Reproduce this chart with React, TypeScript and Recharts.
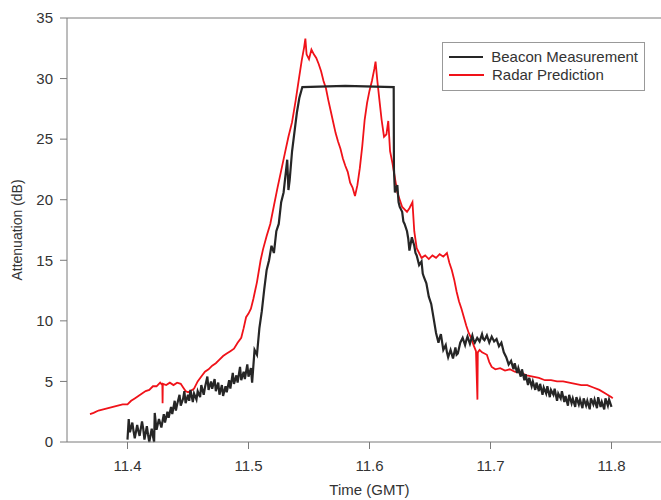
import { LineChart, Line, XAxis, YAxis, ReferenceLine, Legend } from "recharts"

// time (GMT hours), attenuation (dB)
const beaconPoints: [number, number][] = [
  [11.4, 0.2], [11.401, 1.9], [11.402, 0.8], [11.404, 1.6], [11.405, 0.9], [11.406, 0.3], [11.408, 1.4],
  [11.409, 0.9], [11.41, 0.5], [11.412, 1.7], [11.413, 1.1], [11.414, 0.2], [11.416, 1.3], [11.417, 0.6],
  [11.418, 0.0], [11.42, 1.1], [11.421, 0.5], [11.422, 0.0], [11.4225, 2.4], [11.424, 1.0], [11.426, 1.9],
  [11.428, 1.2], [11.43, 2.3], [11.431, 1.6], [11.433, 2.5], [11.434, 2.0], [11.436, 2.9], [11.437, 2.3],
  [11.439, 3.4], [11.44, 2.6], [11.441, 3.1], [11.443, 3.9], [11.444, 3.0], [11.446, 3.6], [11.447, 4.2],
  [11.448, 3.2], [11.45, 3.9], [11.451, 3.4], [11.452, 4.3], [11.454, 3.3], [11.455, 4.0], [11.457, 3.5],
  [11.458, 4.2], [11.46, 3.7], [11.461, 4.7], [11.463, 3.9], [11.464, 4.5], [11.466, 5.4], [11.467, 4.3],
  [11.469, 5.0], [11.47, 4.4], [11.472, 5.2], [11.473, 4.2], [11.475, 4.9], [11.476, 3.9], [11.478, 4.7],
  [11.479, 3.8], [11.481, 4.6], [11.482, 4.1], [11.484, 5.1], [11.485, 4.4], [11.487, 5.7], [11.488, 4.8],
  [11.49, 5.5], [11.491, 4.9], [11.493, 6.2], [11.494, 5.1], [11.496, 5.8], [11.497, 5.2], [11.499, 6.4],
  [11.5, 5.4], [11.502, 6.1], [11.503, 4.9], [11.505, 7.6], [11.507, 7.2], [11.509, 9.4], [11.511, 10.8],
  [11.513, 12.6], [11.515, 14.2], [11.517, 15.0], [11.519, 16.2], [11.521, 15.6], [11.523, 17.4],
  [11.525, 18.0], [11.527, 19.8], [11.529, 20.6], [11.531, 22.4], [11.532, 23.3], [11.533, 20.8],
  [11.534, 21.6], [11.536, 24.0], [11.538, 25.6], [11.54, 27.2], [11.542, 28.4], [11.5445, 29.3],
  [11.58, 29.4], [11.62, 29.3], [11.6202, 22.5], [11.621, 20.6], [11.623, 21.2], [11.624, 19.8],
  [11.625, 19.4], [11.627, 19.0], [11.628, 18.2], [11.629, 18.0], [11.631, 17.4], [11.632, 16.8],
  [11.633, 15.8], [11.635, 16.9], [11.637, 16.2], [11.638, 15.6], [11.639, 15.4], [11.641, 14.6],
  [11.643, 14.9], [11.644, 13.9], [11.645, 13.6], [11.647, 13.1], [11.649, 12.0], [11.651, 11.4],
  [11.653, 10.2], [11.655, 9.0], [11.657, 8.2], [11.658, 8.6], [11.659, 8.9], [11.661, 7.6], [11.663, 8.0],
  [11.664, 7.4], [11.665, 7.0], [11.667, 7.6], [11.669, 6.9], [11.671, 7.8], [11.672, 7.2], [11.673, 7.3],
  [11.675, 8.2], [11.677, 8.6], [11.679, 8.0], [11.68, 8.4], [11.681, 8.7], [11.683, 8.1], [11.685, 8.8],
  [11.686, 8.4], [11.687, 8.2], [11.689, 8.6], [11.691, 8.3], [11.693, 8.9], [11.694, 8.5], [11.695, 8.4],
  [11.697, 8.8], [11.699, 8.2], [11.701, 8.7], [11.703, 8.3], [11.705, 8.5], [11.707, 7.9], [11.709, 8.2],
  [11.711, 7.4], [11.713, 7.0], [11.715, 6.4], [11.717, 6.7], [11.719, 6.0], [11.72, 6.5], [11.722, 5.7],
  [11.723, 6.1], [11.725, 5.4], [11.726, 6.0], [11.728, 5.1], [11.729, 5.6], [11.731, 4.7], [11.732, 5.3],
  [11.734, 4.6], [11.735, 5.0], [11.737, 4.3], [11.738, 4.9], [11.74, 4.2], [11.741, 4.8], [11.743, 3.9],
  [11.744, 4.5], [11.746, 4.0], [11.747, 4.6], [11.749, 3.7], [11.75, 4.3], [11.752, 3.9], [11.753, 4.4],
  [11.755, 3.4], [11.756, 4.0], [11.758, 3.6], [11.759, 4.2], [11.761, 3.3], [11.762, 3.8], [11.764, 3.0],
  [11.765, 3.9], [11.767, 3.2], [11.768, 3.6], [11.77, 2.9], [11.771, 3.7], [11.773, 3.1], [11.774, 3.5],
  [11.776, 2.8], [11.777, 3.6], [11.779, 3.0], [11.78, 3.4], [11.782, 2.7], [11.783, 3.6], [11.785, 3.1],
  [11.786, 3.5], [11.788, 2.8], [11.789, 3.7], [11.791, 2.9], [11.792, 3.3], [11.794, 2.7], [11.795, 3.6],
  [11.797, 3.0], [11.798, 3.5], [11.8, 2.9],
]

const radarPoints: [number, number][] = [
  [11.369, 2.3], [11.372, 2.4], [11.376, 2.6], [11.38, 2.7], [11.384, 2.8], [11.388, 2.9],
  [11.392, 3.0], [11.396, 3.1], [11.4, 3.1], [11.403, 3.4], [11.406, 3.6], [11.409, 3.8],
  [11.412, 4.0], [11.415, 4.2], [11.418, 4.3], [11.421, 4.6], [11.424, 4.6], [11.427, 4.9],
  [11.4288, 4.7], [11.429, 3.2], [11.4292, 4.8], [11.432, 4.7], [11.435, 4.9], [11.438, 4.7],
  [11.441, 4.9], [11.444, 4.8], [11.446, 4.5], [11.448, 4.2], [11.45, 4.1], [11.452, 4.2],
  [11.455, 4.4], [11.458, 5.0], [11.461, 5.4], [11.464, 5.8], [11.467, 6.0], [11.47, 6.3],
  [11.473, 6.5], [11.476, 6.8], [11.479, 7.1], [11.482, 7.3], [11.485, 7.5], [11.488, 7.7],
  [11.491, 8.2], [11.494, 8.6], [11.496, 9.4], [11.498, 10.3], [11.5, 10.6], [11.502, 11.0],
  [11.504, 11.8], [11.507, 13.2], [11.51, 15.0], [11.512, 15.9], [11.515, 17.0], [11.518, 18.0],
  [11.521, 19.5], [11.524, 21.0], [11.527, 22.4], [11.53, 23.8], [11.533, 25.2], [11.536, 26.4],
  [11.539, 28.2], [11.542, 30.2], [11.544, 31.5], [11.546, 32.6], [11.547, 33.3], [11.548, 32.0],
  [11.55, 31.6], [11.552, 32.4], [11.554, 32.0], [11.556, 31.7], [11.558, 31.2], [11.56, 30.6],
  [11.562, 29.8], [11.564, 29.2], [11.566, 28.2], [11.568, 27.3], [11.57, 26.4], [11.572, 25.5],
  [11.574, 24.8], [11.576, 24.2], [11.578, 23.4], [11.58, 22.8], [11.582, 22.3], [11.584, 21.4],
  [11.586, 21.0], [11.588, 20.3], [11.59, 21.2], [11.592, 22.6], [11.594, 24.4], [11.596, 26.6],
  [11.598, 28.0], [11.6, 29.0], [11.602, 29.8], [11.604, 30.8], [11.605, 31.4], [11.6065, 29.8],
  [11.608, 28.4], [11.61, 26.6], [11.612, 25.2], [11.614, 25.4], [11.6155, 26.5], [11.617, 24.0],
  [11.619, 23.0], [11.621, 21.8], [11.623, 20.6], [11.625, 20.0], [11.627, 19.4], [11.629, 19.2],
  [11.631, 19.0], [11.633, 19.3], [11.6355, 19.8], [11.637, 17.4], [11.639, 16.0], [11.641, 15.6],
  [11.643, 15.2], [11.646, 15.4], [11.649, 15.1], [11.652, 15.4], [11.655, 15.2], [11.658, 15.5],
  [11.661, 15.3], [11.664, 15.6], [11.666, 14.8], [11.668, 14.2], [11.67, 13.4], [11.672, 12.4],
  [11.674, 11.6], [11.676, 11.0], [11.678, 10.3], [11.68, 9.6], [11.682, 9.0], [11.684, 8.6],
  [11.686, 8.0], [11.688, 7.5], [11.6892, 3.5], [11.6895, 7.4], [11.691, 7.6], [11.693, 7.4],
  [11.695, 7.3], [11.697, 7.2], [11.699, 6.6], [11.701, 6.2], [11.704, 6.0], [11.708, 6.1],
  [11.712, 5.9], [11.716, 6.0], [11.72, 5.8], [11.725, 5.7], [11.73, 5.5], [11.735, 5.4],
  [11.74, 5.3], [11.745, 5.1], [11.75, 5.1], [11.755, 5.0], [11.76, 5.0], [11.765, 4.9],
  [11.77, 4.8], [11.775, 4.7], [11.78, 4.7], [11.785, 4.5], [11.79, 4.3], [11.795, 4.0],
  [11.8, 3.7], [11.801, 3.6],
]

const timeTicks = [11.4, 11.5, 11.6, 11.7, 11.8]
const attenTicks = [0, 5, 10, 15, 20, 25, 30, 35]

const BEACON = "#262626"
const RADAR = "#f01219"
const AXIS = "#7a7a7a"
const TEXT = "#333"

const beaconData = beaconPoints.map(([t, v]) => ({ t, v }))
const radarData = radarPoints.map(([t, v]) => ({ t, v }))

function LegendBox() {
  const row = (color: string, name: string) => (
    <div style={{ display: "flex", alignItems: "center", height: 18 }}>
      <span style={{ display: "inline-block", width: 35, height: 2, background: color, marginRight: 8 }} />
      <span>{name}</span>
    </div>
  )
  return (
    <div style={{ boxSizing: "border-box", border: "1px solid #999", background: "#fff", padding: "5px 6px 7px 6px", width: 203, height: 49, fontSize: 15, color: TEXT, lineHeight: "18px", whiteSpace: "nowrap" }}>
      {row(BEACON, "Beacon Measurement")}
      {row(RADAR, "Radar Prediction")}
    </div>
  )
}

export default function App() {
  return (
    <div style={{ position: "absolute", left: 0, top: 0, width: 661, height: 500, overflow: "hidden", background: "#fff", fontFamily: "'Liberation Sans', Arial, sans-serif" }}>
      <LineChart width={680} height={500} margin={{ top: 18, right: 8, left: 0, bottom: 0 }}>
        <XAxis
          type="number"
          dataKey="t"
          domain={[11.35, 11.85]}
          ticks={timeTicks}
          allowDataOverflow
          stroke={AXIS}
          tickSize={7}
          tickMargin={11}
          height={58}
          tick={{ fill: TEXT, fontSize: 15 }}
          label={{ value: "Time (GMT)", position: "insideBottom", offset: 5, fill: TEXT, fontSize: 15 }}
        />
        <YAxis
          type="number"
          domain={[0, 35]}
          ticks={attenTicks}
          stroke={AXIS}
          width={67}
          tickSize={7}
          tickMargin={7}
          tick={{ fill: TEXT, fontSize: 15 }}
          label={{ value: "Attenuation (dB)", angle: -90, position: "insideLeft", offset: 17, fill: TEXT, fontSize: 14, style: { textAnchor: "middle" } }}
        />
        <ReferenceLine y={35} stroke={AXIS} />
        <Legend layout="vertical" align="center" verticalAlign="middle" wrapperStyle={{ top: 42, left: 442, width: "auto" }} content={() => <LegendBox />} />
        <Line data={radarData} dataKey="v" name="Radar Prediction" stroke={RADAR} strokeWidth={1.8} dot={false} isAnimationActive={false} />
        <Line data={beaconData} dataKey="v" name="Beacon Measurement" stroke={BEACON} strokeWidth={2.2} dot={false} isAnimationActive={false} />
      </LineChart>
    </div>
  )
}
